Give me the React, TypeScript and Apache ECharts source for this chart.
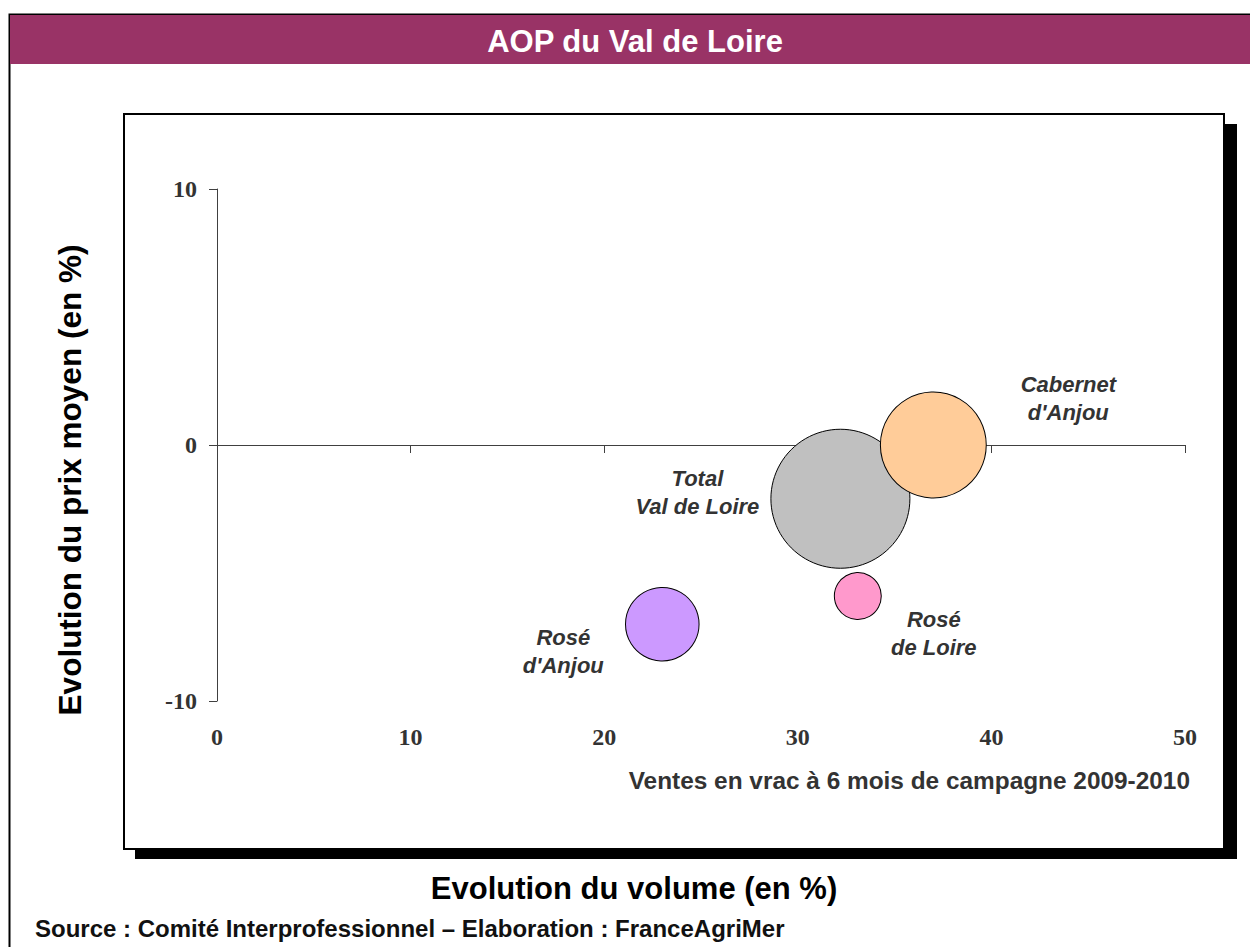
import React, { useEffect, useRef } from "react";
import * as echarts from "echarts";

// ---- Data ----
const categories = ["Total Val de Loire", "Cabernet d'Anjou", "Rosé de Loire", "Rosé d'Anjou"];
const labelTexts = ["Total\nVal de Loire", "Cabernet\nd'Anjou", "Rosé\nde Loire", "Rosé\nd'Anjou"];
const volumeChange = [32.2, 37.0, 33.1, 23.0]; // Evolution du volume (%)
const priceChange = [-2.1, 0.0, -5.9, -7.0]; // Evolution du prix moyen (%)
const bubbleSize = [100, 58, 11.4, 28]; // relative volume (bubble area)
const xTickValues = [0, 10, 20, 30, 40, 50];
const yTickValues = [-10, 0, 10];

// ---- Styles ----
const bubbleColors = ["#C0C0C0", "#FFCC99", "#FF99CC", "#CC99FF"];
const labelOffsets = [
  [-143, -6],
  [135, -47],
  [76, 37],
  [-99, 27],
];
const MAX_DIAMETER = 139;
const SANS = "'Liberation Sans', Arial, Helvetica, sans-serif";
const SERIF = "'Liberation Serif', 'Times New Roman', serif";

export default function App() {
  const ref = useRef<HTMLDivElement>(null);

  useEffect(() => {
    if (!ref.current) return;
    const chart = echarts.init(ref.current, undefined, { renderer: "svg" });
    const maxSize = Math.max(...bubbleSize);

    const data = categories.map((name, i) => ({
      name,
      value: [volumeChange[i], priceChange[i], bubbleSize[i]],
      itemStyle: { color: bubbleColors[i], borderColor: "#000", borderWidth: 1, opacity: 1 },
      label: {
        show: true,
        position: "inside",
        offset: labelOffsets[i],
        formatter: labelTexts[i],
      },
    }));

    const xMin = xTickValues[0];
    const xMax = xTickValues[xTickValues.length - 1];
    const xInt = xTickValues[1] - xTickValues[0];
    const yMin = yTickValues[0];
    const yMax = yTickValues[yTickValues.length - 1];
    const yInt = yTickValues[1] - yTickValues[0];

    chart.setOption({
      animation: false,
      backgroundColor: "#ffffff",
      grid: { left: 217, right: 65, top: 189, bottom: 246, containLabel: false },
      xAxis: [
        {
          type: "value",
          min: xMin,
          max: xMax,
          interval: xInt,
          position: "bottom",
          axisLine: { show: false, onZero: false },
          axisTick: { show: false },
          splitLine: { show: false },
          axisLabel: {
            show: true,
            margin: 24,
            color: "#333",
            fontFamily: SERIF,
            fontWeight: "bold",
            fontSize: 24,
          },
        },
        {
          type: "value",
          min: xMin,
          max: xMax,
          interval: xInt,
          position: "bottom",
          axisLine: { show: true, onZero: true, lineStyle: { color: "#404040", width: 1 } },
          axisTick: { show: true, length: 8, lineStyle: { color: "#404040", width: 1 } },
          splitLine: { show: false },
          axisLabel: { show: false },
        },
      ],
      yAxis: {
        type: "value",
        min: yMin,
        max: yMax,
        interval: yInt,
        axisLine: { show: true, onZero: false, lineStyle: { color: "#404040", width: 1 } },
        axisTick: { show: true, length: 8, lineStyle: { color: "#404040", width: 1 } },
        splitLine: { show: false },
        axisLabel: {
          margin: 20,
          color: "#333",
          fontFamily: SERIF,
          fontWeight: "bold",
          fontSize: 24,
        },
      },
      series: [
        {
          type: "scatter",
          xAxisIndex: 0,
          yAxisIndex: 0,
          symbol: "circle",
          symbolSize: (val: number[]) => MAX_DIAMETER * Math.sqrt(val[2] / maxSize),
          label: {
            color: "#333",
            fontFamily: SANS,
            fontWeight: "bold",
            fontStyle: "italic",
            fontSize: 22,
            lineHeight: 28,
            align: "center",
            verticalAlign: "middle",
          },
          emphasis: { disabled: true },
          data,
        },
      ],
      graphic: [
        {
          type: "rect",
          shape: { x: 9.5, y: 14.5, width: 1250, height: 940 },
          style: { fill: "none", stroke: "#000", lineWidth: 2 },
          silent: true,
        },
        {
          type: "rect",
          shape: { x: 10, y: 15, width: 1240, height: 49 },
          style: { fill: "#993366" },
          silent: true,
        },
        {
          type: "text",
          x: 635,
          y: 41,
          style: {
            text: "AOP du Val de Loire",
            fill: "#ffffff",
            font: `bold 31px ${SANS}`,
            align: "center",
            verticalAlign: "middle",
          },
          silent: true,
        },
        // shadow of the plot frame
        {
          type: "rect",
          shape: { x: 135, y: 849, width: 1102, height: 10 },
          style: { fill: "#000" },
          silent: true,
        },
        {
          type: "rect",
          shape: { x: 1225, y: 124, width: 12, height: 735 },
          style: { fill: "#000" },
          silent: true,
        },
        {
          type: "rect",
          shape: { x: 124, y: 114, width: 1100, height: 735 },
          style: { fill: "none", stroke: "#000", lineWidth: 2 },
          silent: true,
        },
        {
          type: "text",
          x: 70,
          y: 480,
          rotation: Math.PI / 2,
          style: {
            text: "Evolution du prix moyen (en %)",
            fill: "#000",
            font: `bold 31.5px ${SANS}`,
            align: "center",
            verticalAlign: "middle",
          },
          silent: true,
        },
        {
          type: "text",
          x: 1190,
          y: 780,
          style: {
            text: "Ventes en vrac à 6 mois de campagne 2009-2010",
            fill: "#333",
            font: `bold 24.4px ${SANS}`,
            align: "right",
            verticalAlign: "middle",
          },
          silent: true,
        },
        {
          type: "text",
          x: 634,
          y: 888,
          style: {
            text: "Evolution du volume (en %)",
            fill: "#000",
            font: `bold 31px ${SANS}`,
            align: "center",
            verticalAlign: "middle",
          },
          silent: true,
        },
        {
          type: "text",
          x: 35,
          y: 928,
          style: {
            text: "Source : Comité Interprofessionnel – Elaboration : FranceAgriMer",
            fill: "#111",
            font: `bold 24px ${SANS}`,
            align: "left",
            verticalAlign: "middle",
          },
          silent: true,
        },
      ],
    });

    return () => {
      chart.dispose();
    };
  }, []);

  return (
    <div
      ref={ref}
      style={{ position: "absolute", left: 0, top: 0, width: 1250, height: 947 }}
    />
  );
}
